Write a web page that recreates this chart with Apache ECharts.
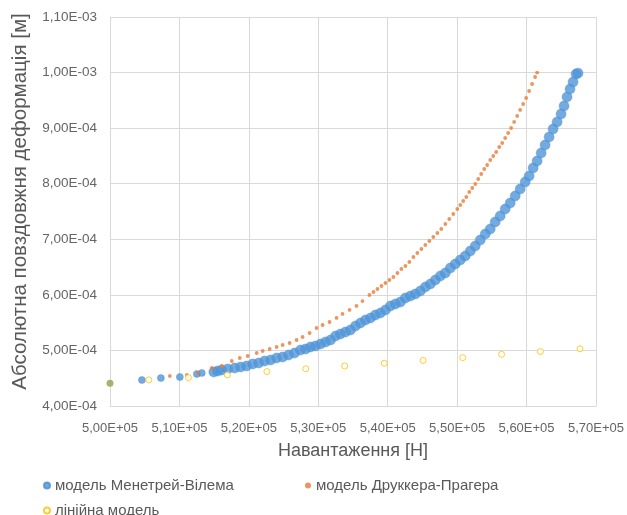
<!DOCTYPE html>
<html>
<head>
<meta charset="utf-8">
<script src="https://cdn.jsdelivr.net/npm/echarts@6/dist/echarts.min.js"></script>
<style>
html,body{margin:0;padding:0;background:#fff;}
#chart{width:627px;height:515px;}
</style>
</head>
<body>
<div id="chart"></div>
<script>
// ---- Data (load in N, elongation in m) ----
const seriesNames = ['модель Менетрей-Вілема', 'модель Друккера-Прагера', 'лінійна модель'];
const xAxisTitle = 'Навантаження [Н]';
const yAxisTitle = 'Абсолютна повздовжня деформація [м]';

const menetreyX = [504600,507330,510060,512510,513220,514950,515520,516100,516960,517970,518830,519690,520560,521420,522280,523140,524000,524870,525730,526590,527450,528170,528890,529610,530330,531050,531770,532490,533200,533920,534640,535360,536080,536800,537520,538230,538950,539670,540390,541110,541830,542550,543270,543980,544700,545420,546140,546860,547580,548300,549020,549730,550450,551170,551890,552610,553330,554050,554770,555480,556200,556920,557640,558360,559080,559800,560370,560950,561520,562100,562670,563250,563820,564400,564970,565400,565830,566260,566700,567130,567410];
const menetreyY = [4.468e-4,4.504e-4,4.522e-4,4.576e-4,4.594e-4,4.612e-4,4.630e-4,4.648e-4,4.666e-4,4.684e-4,4.702e-4,4.720e-4,4.756e-4,4.774e-4,4.810e-4,4.828e-4,4.864e-4,4.882e-4,4.918e-4,4.954e-4,5.008e-4,5.026e-4,5.062e-4,5.080e-4,5.116e-4,5.152e-4,5.188e-4,5.260e-4,5.296e-4,5.332e-4,5.368e-4,5.440e-4,5.494e-4,5.548e-4,5.584e-4,5.638e-4,5.674e-4,5.728e-4,5.800e-4,5.836e-4,5.871e-4,5.943e-4,5.979e-4,6.015e-4,6.069e-4,6.141e-4,6.195e-4,6.267e-4,6.339e-4,6.393e-4,6.483e-4,6.555e-4,6.627e-4,6.699e-4,6.789e-4,6.879e-4,6.987e-4,7.095e-4,7.185e-4,7.311e-4,7.419e-4,7.545e-4,7.653e-4,7.779e-4,7.905e-4,8.031e-4,8.139e-4,8.283e-4,8.409e-4,8.553e-4,8.697e-4,8.841e-4,8.985e-4,9.111e-4,9.255e-4,9.399e-4,9.560e-4,9.704e-4,9.830e-4,9.974e-4,9.990e-4];

const druckerX = [508620,511070,512650,514660,516100,517540,518690,519840,521130,521990,523000,524000,524870,525870,526880,527740,528750,529750,530620,531620,532630,533490,534500,535500,536370,537370,537950,538520,539100,539670,540250,540820,541400,541970,542550,543120,543700,544270,544850,545420,546000,546570,547150,547720,548300,548870,549450,550020,550450,550880,551320,551750,552180,552610,553040,553470,553900,554330,554770,555200,555630,556060,556490,556920,557350,557780,558210,558650,559080,559510,559940,560370,560800,561230,561520];
const druckerY = [4.540e-4,4.558e-4,4.594e-4,4.684e-4,4.720e-4,4.810e-4,4.864e-4,4.900e-4,4.954e-4,4.990e-4,5.026e-4,5.062e-4,5.098e-4,5.134e-4,5.188e-4,5.242e-4,5.314e-4,5.404e-4,5.458e-4,5.512e-4,5.584e-4,5.656e-4,5.728e-4,5.800e-4,5.889e-4,5.997e-4,6.051e-4,6.105e-4,6.159e-4,6.213e-4,6.267e-4,6.321e-4,6.393e-4,6.465e-4,6.519e-4,6.591e-4,6.681e-4,6.753e-4,6.825e-4,6.897e-4,6.969e-4,7.041e-4,7.113e-4,7.185e-4,7.275e-4,7.365e-4,7.455e-4,7.545e-4,7.617e-4,7.689e-4,7.761e-4,7.851e-4,7.923e-4,7.995e-4,8.085e-4,8.175e-4,8.265e-4,8.337e-4,8.427e-4,8.499e-4,8.571e-4,8.661e-4,8.733e-4,8.823e-4,8.913e-4,9.003e-4,9.111e-4,9.219e-4,9.327e-4,9.434e-4,9.542e-4,9.668e-4,9.794e-4,9.920e-4,1.000e-3];

const linearX = [505600,511300,516900,522600,528200,533800,539500,545100,550800,556400,562000,567700];
const linearY = [4.47e-4,4.51e-4,4.56e-4,4.62e-4,4.67e-4,4.72e-4,4.77e-4,4.82e-4,4.87e-4,4.93e-4,4.98e-4,5.03e-4];

const startX = [500000];
const startY = [4.41e-4];

const xMin = 500000, xMax = 570000, xStep = 10000;
const yMin = 4e-4, yMax = 1.1e-3, yStep = 1e-4;

function zip(xs, ys) { return xs.map((x, i) => [x, ys[i]]); }
function sci(v) {
  const parts = Number(v).toExponential(2).split('e');
  const m = parts[0].replace('.', ',');
  const sign = parts[1][0];
  const d = parts[1].slice(1).padStart(2, '0');
  return m + 'E' + sign + d;
}

const FONT = 'Liberation Sans';
const chart = echarts.init(document.getElementById('chart'), null, {renderer: 'canvas'});
const legendText = {color: '#595959', fontSize: 15, fontFamily: FONT};

chart.setOption({
  animation: false,
  backgroundColor: '#ffffff',
  grid: {left: 110, right: 30, top: 17, bottom: 109, containLabel: false},
  legend: [
    {data: [seriesNames[0]], left: 38, top: 473, itemWidth: 6, itemHeight: 6, textStyle: legendText},
    {data: [seriesNames[1]], left: 300, top: 473, itemWidth: 6, itemHeight: 6, textStyle: legendText},
    {data: [seriesNames[2]], left: 38, top: 498, itemWidth: 6, itemHeight: 6, textStyle: legendText}
  ],
  xAxis: {
    type: 'value', min: xMin, max: xMax, interval: xStep,
    name: xAxisTitle, nameLocation: 'middle', nameGap: 36,
    nameTextStyle: {color: '#595959', fontSize: 18, fontFamily: FONT},
    axisLine: {show: true, lineStyle: {color: '#d9d9d9'}},
    axisTick: {show: false},
    axisLabel: {color: '#656565', fontSize: 13, fontFamily: FONT, margin: 16, formatter: sci},
    splitLine: {show: true, lineStyle: {color: '#d9d9d9'}}
  },
  yAxis: {
    type: 'value', min: yMin, max: yMax, interval: yStep,
    name: yAxisTitle, nameLocation: 'middle', nameGap: 78,
    nameTextStyle: {color: '#595959', fontSize: 20.5, fontFamily: FONT, padding: [0, 0, 0, 20]},
    axisLine: {show: true, lineStyle: {color: '#d9d9d9'}},
    axisTick: {show: false},
    axisLabel: {color: '#656565', fontSize: 13.5, fontFamily: FONT, margin: 13, formatter: sci},
    splitLine: {show: true, lineStyle: {color: '#d9d9d9'}}
  },
  series: [
    {
      name: seriesNames[0], type: 'scatter', data: zip(menetreyX, menetreyY),
      symbol: 'circle',
      symbolSize: function (val) { return val[0] < 514000 ? 7 : 10; },
      itemStyle: {color: '#5096d8', borderColor: '#4a8cd0', borderWidth: 0.5}
    },
    {
      name: seriesNames[1], type: 'scatter', data: zip(druckerX, druckerY),
      symbol: 'circle', symbolSize: 3.8,
      itemStyle: {color: '#e97b35'}
    },
    {
      name: seriesNames[2], type: 'scatter', data: zip(linearX, linearY),
      symbol: 'circle', symbolSize: 6,
      itemStyle: {color: '#ffffff', borderColor: '#ffc000', borderWidth: 1}
    },
    {
      name: 'start', type: 'scatter', data: zip(startX, startY),
      symbol: 'circle', symbolSize: 7,
      itemStyle: {color: '#8fa24a'}
    }
  ]
});
</script>
</body>
</html>
